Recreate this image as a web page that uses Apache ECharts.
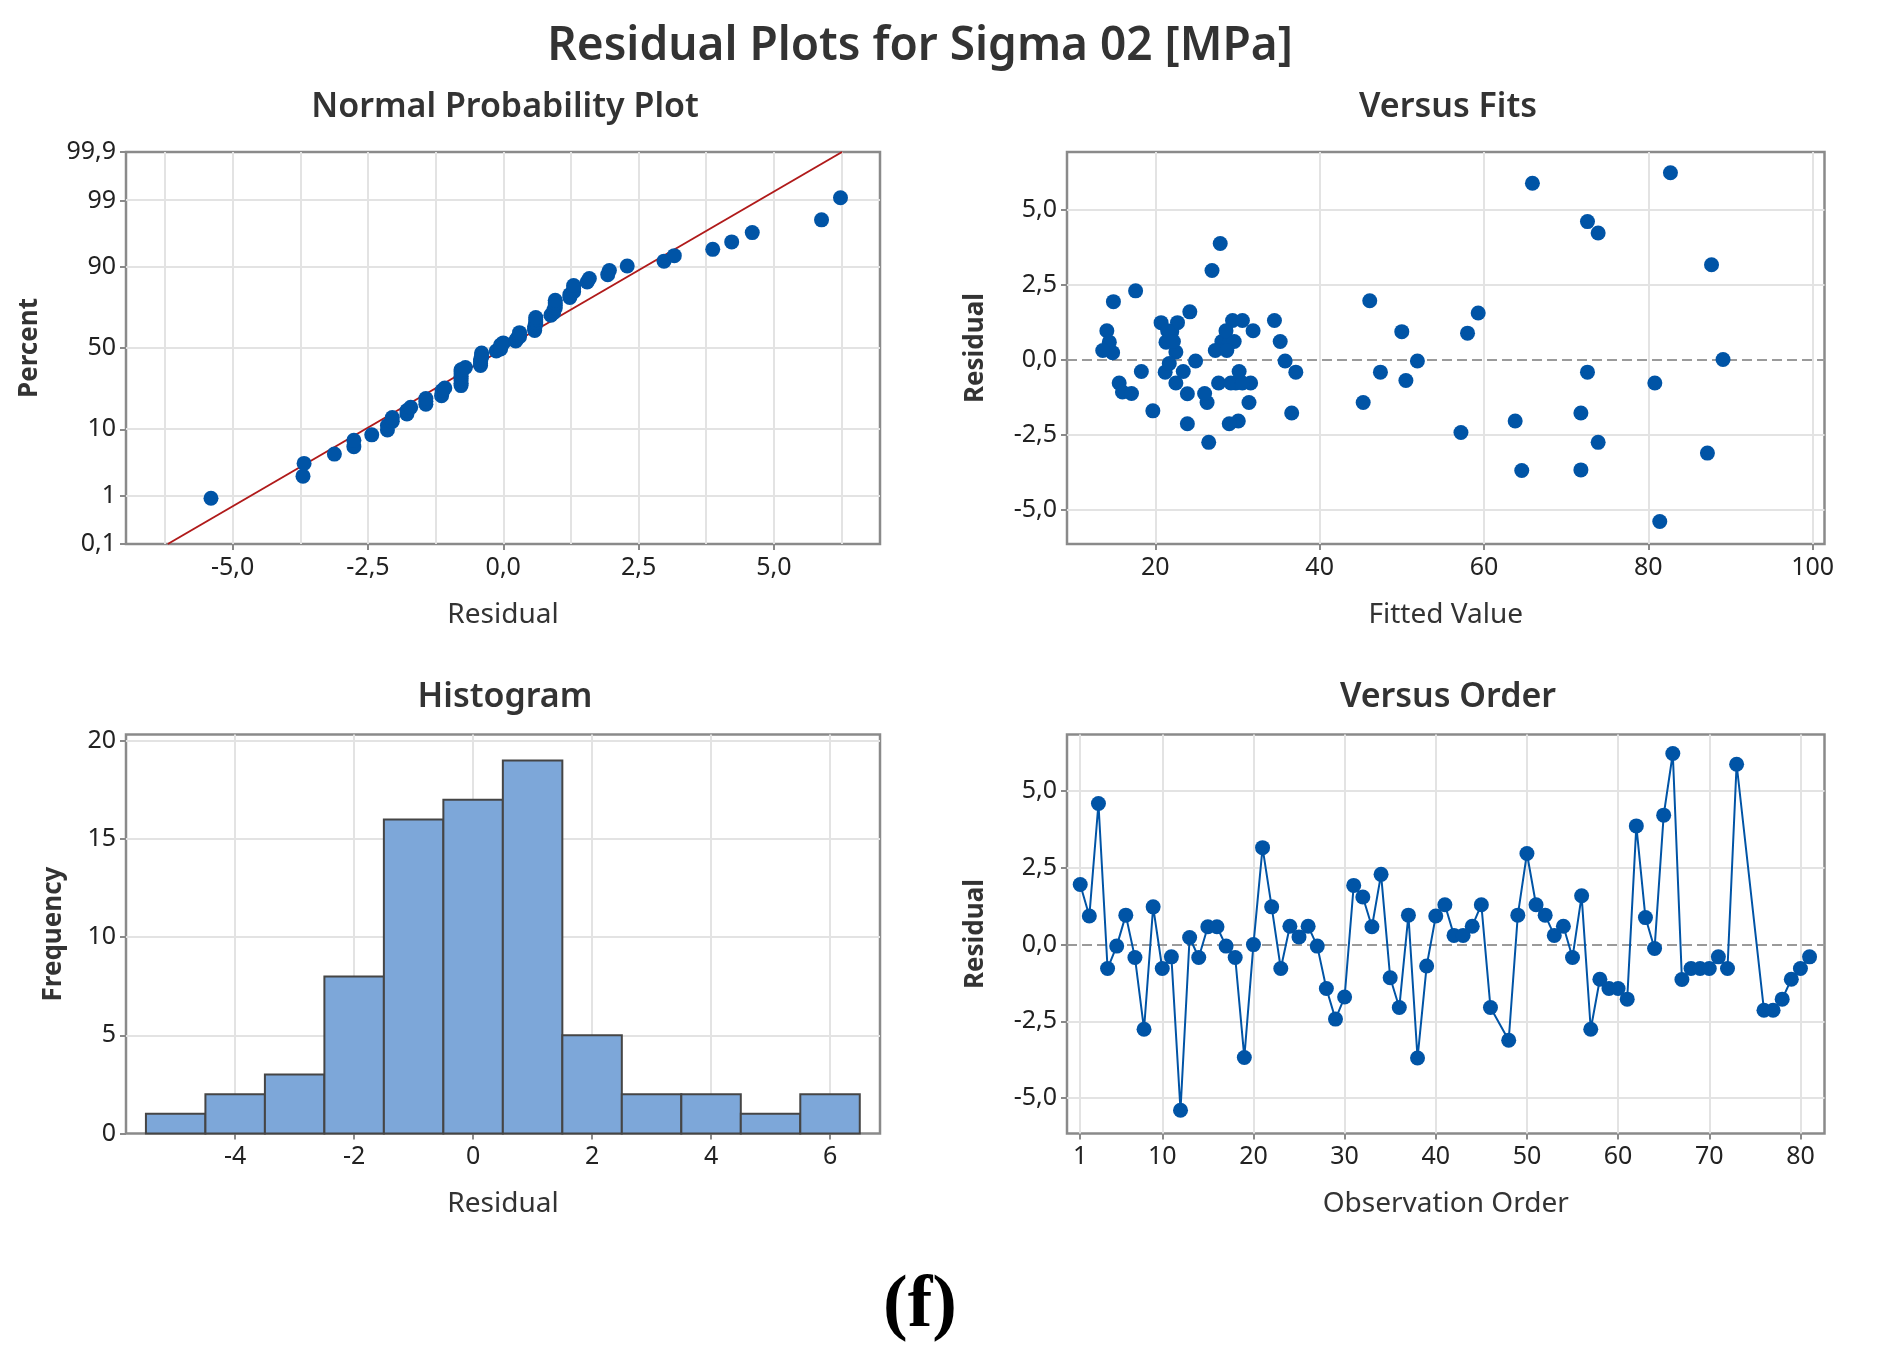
<!DOCTYPE html>
<html>
<head>
<meta charset="utf-8">
<script src="https://cdn.jsdelivr.net/npm/echarts@6/dist/echarts.min.js"></script>
<style>
html,body{margin:0;padding:0;background:#fff;}
#chart{width:1877px;height:1350px;}
</style>
</head>
<body>
<div id="chart"></div>
<script>
// ---------------- DATA ----------------
// Residuals in observation order (1..81); null = missing observation
const residuals = [1.96, 0.93, 4.60, -0.78, -0.05, 0.96, -0.42, -2.76, 1.23, -0.78,
  -0.40, -5.40, 0.23, -0.42, 0.58, 0.58, -0.05, -0.42, -3.68, 0.00,
  3.16, 1.23, -0.78, 0.60, 0.25, 0.60, -0.05, -1.43, -2.43, -1.71,
  1.93, 1.55, 0.58, 2.29, -1.08, -2.05, 0.96, -3.70, -0.70, 0.93,
  1.30, 0.30, 0.30, 0.60, 1.30, -2.05, null, -3.12, 0.96, 2.97,
  1.30, 0.96, 0.30, 0.60, -0.42, 1.59, -2.76, -1.13, -1.43, -1.43,
  -1.78, 3.87, 0.88, -0.13, 4.22, 6.23, -1.14, -0.78, -0.78, -0.78,
  -0.40, -0.78, 5.88, null, null, -2.14, -2.14, -1.78, -1.13, -0.78, -0.40];
// Fitted values in observation order
const fitted = [46.1, 22.0, 72.6, 15.6, 51.9, 14.1, 21.2, 26.5, 20.7, 22.5,
  18.3, 81.4, 14.8, 47.4, 14.4, 21.3, 24.9, 37.1, 71.8, 89.1,
  87.7, 22.7, 27.7, 35.2, 22.5, 28.1, 35.8, 26.3, 57.2, 19.7,
  14.9, 59.3, 29.0, 17.6, 16.0, 30.1, 31.9, 64.6, 50.5, 50.0,
  29.4, 13.6, 27.3, 29.6, 30.6, 63.8, null, 87.2, 28.6, 26.9,
  34.5, 21.5, 28.7, 22.2, 72.6, 24.2, 73.9, 17.1, 45.3, 31.4,
  36.6, 27.9, 58.0, 21.7, 73.9, 82.7, 23.9, 29.8, 31.6, 29.2,
  23.4, 30.6, 65.9, null, null, 23.9, 29.0, 71.8, 26.0, 80.8, 30.2];
// Histogram
const binCenters = [-5, -4, -3, -2, -1, 0, 1, 2, 3, 4, 5, 6];
const binCounts = [1, 2, 3, 8, 16, 17, 19, 5, 2, 2, 1, 2];
const binWidth = 1;
// Tick labels
const probTicks = [0.1, 1, 10, 50, 90, 99, 99.9];
const probLabels = ['0,1', '1', '10', '50', '90', '99', '99,9'];
const nppXTicks = [-5, -2.5, 0, 2.5, 5];
const nppXGrid = [-6.25, -5, -3.75, -2.5, -1.25, 0, 1.25, 2.5, 3.75, 5, 6.25];
const residTicks = [-5, -2.5, 0, 2.5, 5];
const fitTicks = [20, 40, 60, 80, 100];
const histXTicks = [-4, -2, 0, 2, 4, 6];
const histYTicks = [0, 5, 10, 15, 20];
const orderTicks = [1, 10, 20, 30, 40, 50, 60, 70, 80];

// ---------------- HELPERS ----------------
function normInv(p) {
  const a=[-3.969683028665376e+01,2.209460984245205e+02,-2.759285104469687e+02,1.383577518672690e+02,-3.066479806614716e+01,2.506628277459239e+00];
  const b=[-5.447609879822406e+01,1.615858368580409e+02,-1.556989798598866e+02,6.680131188771972e+01,-1.328068155288572e+01];
  const c=[-7.784894002430293e-03,-3.223964580411365e-01,-2.400758277161838e+00,-2.549732539343734e+00,4.374664141464968e+00,2.938163982698783e+00];
  const d=[7.784695709041462e-03,3.224671290700398e-01,2.445134137142996e+00,3.754408661907416e+00];
  const pl=0.02425, ph=1-pl;
  if (p < pl) { const q=Math.sqrt(-2*Math.log(p)); return (((((c[0]*q+c[1])*q+c[2])*q+c[3])*q+c[4])*q+c[5])/((((d[0]*q+d[1])*q+d[2])*q+d[3])*q+1); }
  if (p <= ph) { const q=p-0.5, r=q*q; return (((((a[0]*r+a[1])*r+a[2])*r+a[3])*r+a[4])*r+a[5])*q/(((((b[0]*r+b[1])*r+b[2])*r+b[3])*r+b[4])*r+1); }
  const q=Math.sqrt(-2*Math.log(1-p)); return -(((((c[0]*q+c[1])*q+c[2])*q+c[3])*q+c[4])*q+c[5])/((((d[0]*q+d[1])*q+d[2])*q+d[3])*q+1);
}
const comma1 = v => Number(v).toFixed(1).replace('.', ',');

const valid = residuals.map((r, i) => ({r, f: fitted[i], o: i + 1})).filter(d => d.r !== null);
const n = valid.length;
const sorted = valid.map(d => d.r).sort((x, y) => x - y);
const nppData = sorted.map((r, i) => [r, normInv((i + 1 - 0.3) / (n + 0.4))]);
const mean = sorted.reduce((s, v) => s + v, 0) / n;
const sd = Math.sqrt(sorted.reduce((s, v) => s + (v - mean) * (v - mean), 0) / (n - 1));
const zTicks = probTicks.map(p => normInv(p / 100));
const zMin = zTicks[0], zMax = zTicks[zTicks.length - 1];
const fitLine = [[mean + sd * zMin, zMin], [mean + sd * zMax, zMax]];
const fitsData = valid.map(d => [d.f, d.r]);
const orderData = valid.map(d => [d.o, d.r]);
const histData = binCenters.map((c, i) => [c - binWidth / 2, c + binWidth / 2, binCounts[i]]);

// ---------------- STYLE ----------------
const FONT = 'Noto Sans';
const BLUE = '#0054a6';
const GRIDC = '#e3e3e3';
const BORDER = '#8a8a8a';
const gridBase = {show: true, borderColor: BORDER, borderWidth: 2.5, backgroundColor: '#fff', containLabel: false};

function axis(opts) {
  const o = {
    type: 'value', gridIndex: opts.g, min: opts.min, max: opts.max,
    axisLine: {show: false, onZero: false},
    axisTick: {show: true, customValues: opts.ticks, length: 6, lineStyle: {color: BORDER, width: 2}},
    axisLabel: {customValues: opts.ticks, formatter: opts.fmt, margin: opts.margin,
      fontSize: 25, color: '#222', fontFamily: FONT, showMinLabel: true, showMaxLabel: true},
    splitLine: {show: false},
    name: opts.name, nameLocation: 'middle', nameGap: opts.gap,
    nameTextStyle: {fontSize: opts.vertical ? 26 : 28, fontWeight: opts.vertical ? 'bold' : 'normal',
      color: '#333', fontFamily: FONT}
  };
  if (opts.vertical) o.nameRotate = 90;
  return o;
}
function gridLines(xs, ys, zero) {
  const data = [];
  xs.forEach(v => data.push({xAxis: v}));
  ys.forEach(v => data.push({yAxis: v}));
  if (zero) data.push({yAxis: 0, lineStyle: {color: '#9a9a9a', width: 2, type: [10, 5]}});
  return {silent: true, symbol: ['none', 'none'], label: {show: false}, z: 1, animation: false,
    emphasis: {disabled: true},
    lineStyle: {color: GRIDC, width: 2, type: 'solid'}, data};
}

const chart = echarts.init(document.getElementById('chart'), null, {renderer: 'canvas'});
chart.setOption({
  backgroundColor: '#fff',
  animation: false,
  grid: [
    Object.assign({left: 126, top: 152, width: 754, height: 392}, gridBase),
    Object.assign({left: 1067, top: 152, width: 757.5, height: 392}, gridBase),
    Object.assign({left: 126, top: 734.5, width: 754, height: 399}, gridBase),
    Object.assign({left: 1067, top: 734.5, width: 757.5, height: 399}, gridBase)
  ],
  xAxis: [
    axis({g: 0, min: -6.97, max: 6.96, ticks: nppXTicks, fmt: comma1, margin: 11, name: 'Residual', gap: 57}),
    axis({g: 1, min: 9.25, max: 101.45, ticks: fitTicks, fmt: v => String(v), margin: 11, name: 'Fitted Value', gap: 57}),
    axis({g: 2, min: -5.835, max: 6.84, ticks: histXTicks, fmt: v => String(v), margin: 11, name: 'Residual', gap: 57}),
    axis({g: 3, min: -0.45, max: 82.64, ticks: orderTicks, fmt: v => String(v), margin: 11, name: 'Observation Order', gap: 57})
  ],
  yAxis: [
    axis({g: 0, min: zMin, max: zMax, ticks: zTicks, margin: 10, vertical: true, name: 'Percent', gap: 83,
      fmt: v => { let bi = 0; zTicks.forEach((z, i) => { if (Math.abs(z - v) < Math.abs(zTicks[bi] - v)) bi = i; }); return probLabels[bi]; }}),
    axis({g: 1, min: -6.15, max: 6.92, ticks: residTicks, fmt: comma1, margin: 10, vertical: true, name: 'Residual', gap: 78}),
    axis({g: 2, min: 0, max: 20.33, ticks: histYTicks, fmt: v => String(v), margin: 10, vertical: true, name: 'Frequency', gap: 59}),
    axis({g: 3, min: -6.16, max: 6.85, ticks: residTicks, fmt: comma1, margin: 10, vertical: true, name: 'Residual', gap: 78})
  ],
  series: [
    {type: 'scatter', xAxisIndex: 0, yAxisIndex: 0, data: nppData, symbol: 'circle', symbolSize: 15,
      itemStyle: {color: BLUE, opacity: 1}, z: 4, silent: true,
      markLine: gridLines(nppXGrid, zTicks.slice(1, -1), false)},
    {type: 'line', xAxisIndex: 0, yAxisIndex: 0, data: fitLine, showSymbol: false, symbol: 'none',
      lineStyle: {color: '#b01a1a', width: 2}, z: 3, silent: true},
    {type: 'scatter', xAxisIndex: 1, yAxisIndex: 1, data: fitsData, symbol: 'circle', symbolSize: 15,
      itemStyle: {color: BLUE, opacity: 1}, z: 4, silent: true,
      markLine: gridLines(fitTicks, [-5, -2.5, 2.5, 5], true)},
    {type: 'custom', xAxisIndex: 2, yAxisIndex: 2, data: histData, encode: {x: [0, 1], y: 2}, z: 3, silent: true,
      renderItem: function (params, api) {
        const p0 = api.coord([api.value(0), api.value(2)]);
        const p1 = api.coord([api.value(1), 0]);
        return {type: 'rect', shape: {x: p0[0], y: p0[1], width: p1[0] - p0[0], height: p1[1] - p0[1]},
          style: {fill: '#7da7d9', stroke: '#454545', lineWidth: 2}};
      },
      markLine: gridLines(histXTicks, [5, 10, 15, 20], false)},
    {type: 'line', xAxisIndex: 3, yAxisIndex: 3, data: orderData, symbol: 'circle', symbolSize: 15, showSymbol: true,
      lineStyle: {color: BLUE, width: 2}, itemStyle: {color: BLUE, opacity: 1}, z: 4, silent: true,
      markLine: gridLines(orderTicks, [-5, -2.5, 2.5, 5], true)}
  ],
  graphic: [
    {type: 'text', x: 920, y: 47, style: {text: 'Residual Plots for Sigma 02 [MPa]', fontSize: 46, fontWeight: 600, fontFamily: FONT, fill: '#333', align: 'center', verticalAlign: 'middle'}},
    {type: 'text', x: 505, y: 107, style: {text: 'Normal Probability Plot', fontSize: 34, fontWeight: 600, fontFamily: FONT, fill: '#333', align: 'center', verticalAlign: 'middle'}},
    {type: 'text', x: 1448, y: 107, style: {text: 'Versus Fits', fontSize: 34, fontWeight: 600, fontFamily: FONT, fill: '#333', align: 'center', verticalAlign: 'middle'}},
    {type: 'text', x: 505, y: 697, style: {text: 'Histogram', fontSize: 34, fontWeight: 600, fontFamily: FONT, fill: '#333', align: 'center', verticalAlign: 'middle'}},
    {type: 'text', x: 1448, y: 697, style: {text: 'Versus Order', fontSize: 34, fontWeight: 600, fontFamily: FONT, fill: '#333', align: 'center', verticalAlign: 'middle'}},
    {type: 'text', x: 920, y: 1307, style: {text: '(f)', fontSize: 74, fontWeight: 'bold', fontFamily: 'Liberation Serif', fill: '#000', align: 'center', verticalAlign: 'middle'}}
  ]
});
</script>
</body>
</html>
